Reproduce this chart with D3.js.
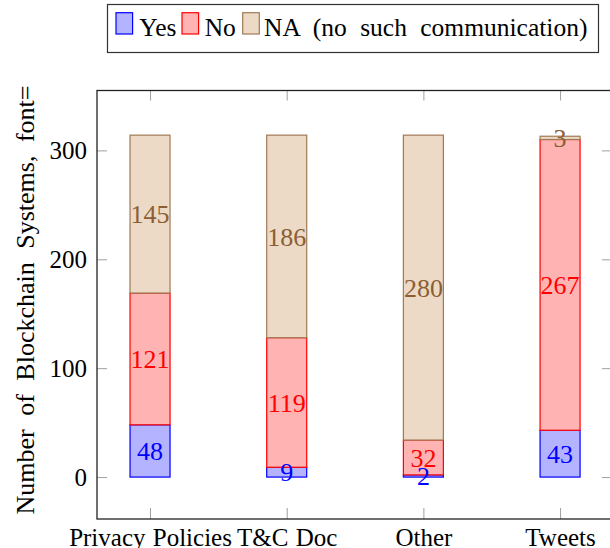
<!DOCTYPE html>
<html><head><meta charset="utf-8">
<script src="https://cdn.jsdelivr.net/npm/d3@7"></script>
<style>body{margin:0;background:#fff}svg{display:block}svg text{font-family:"Liberation Serif","Tinos","Times New Roman","DejaVu Serif",serif !important}</style>
</head><body>
<svg id="c" width="610" height="548"></svg>
<script>
const categories = ["Privacy Policies", "T&C Doc", "Other", "Tweets"];
const yesValues = [48, 9, 2, 43];
const noValues = [121, 119, 32, 267];
const naValues = [145, 186, 280, 3];
const seriesNames = ["Yes", "No", "NA (no such communication)"];
const yTicks = [0, 100, 200, 300];

const svg = d3.select("#c");
const pLeft = 97, pRight = 612, pTop = 90.5, pBottom = 519;
const x = d3.scaleLinear().domain([-0.388, 3.38]).range([pLeft, pRight]);
const y = d3.scaleLinear().domain([-38.5, 355]).range([pBottom, pTop]);
const bw = 40;
const FS = 25;

const styles = [
  {fill: "#b3b3ff", stroke: "#0000ff", text: "#0000ff"},
  {fill: "#ffb3b3", stroke: "#ff0000", text: "#ff0000"},
  {fill: "#ecd9c6", stroke: "#a07a55", text: "#8b5e34"}
];

const rows = categories.map((c, i) => ({i, Yes: yesValues[i], No: noValues[i], NA: naValues[i]}));
const stack = d3.stack().keys(["Yes", "No", "NA"])(rows);

const tickCol = "#a0a0a0";
const g = svg.append("g");
g.append("g").attr("transform", `translate(${pLeft},0)`)
  .call(d3.axisLeft(y).tickValues(yTicks).tickSize(-10).tickPadding(10).tickFormat(d3.format("d")))
  .call(a => { a.select(".domain").remove(); a.selectAll("line").attr("stroke", tickCol);
    a.selectAll("text").attr("font-size", FS).attr("fill", "#000"); });
g.append("g").attr("transform", `translate(${pRight},0)`)
  .call(d3.axisRight(y).tickValues(yTicks).tickSize(-10).tickFormat(""))
  .call(a => { a.select(".domain").remove(); a.selectAll("line").attr("stroke", tickCol); });
g.append("g").attr("transform", `translate(0,${pBottom})`)
  .call(d3.axisBottom(x).tickValues(d3.range(categories.length)).tickSize(-11).tickPadding(9).tickFormat(i => categories[i]))
  .call(a => { a.select(".domain").remove(); a.selectAll("line").attr("stroke", tickCol);
    a.selectAll("text").attr("font-size", FS).attr("fill", "#000").attr("word-spacing", 1); });
g.append("g").attr("transform", `translate(0,${pTop})`)
  .call(d3.axisTop(x).tickValues(d3.range(categories.length)).tickSize(-10).tickFormat(""))
  .call(a => { a.select(".domain").remove(); a.selectAll("line").attr("stroke", tickCol); });

stack.forEach((s, k) => {
  const st = styles[k];
  svg.append("g").selectAll("rect").data(s).join("rect")
    .attr("x", d => x(d.data.i) - bw / 2)
    .attr("width", bw)
    .attr("y", d => y(d[1]))
    .attr("height", d => y(d[0]) - y(d[1]))
    .attr("fill", st.fill).attr("stroke", st.stroke).attr("stroke-width", 1.2);
});
stack.forEach((s, k) => {
  const st = styles[k];
  svg.append("g").selectAll("text").data(s).join("text")
    .attr("x", d => x(d.data.i))
    .attr("y", d => y((d[0] + d[1]) / 2))
    .attr("dy", "0.35em")
    .attr("text-anchor", "middle")
    .attr("font-size", 26)
    .attr("fill", st.text)
    .text(d => d[1] - d[0]);
});

svg.append("rect").attr("x", pLeft).attr("y", pTop).attr("width", pRight - pLeft).attr("height", pBottom - pTop)
  .attr("fill", "none").attr("stroke", "#222").attr("stroke-width", 1.3);

svg.append("text").attr("transform", `translate(34,300) rotate(-90)`)
  .attr("text-anchor", "middle").attr("font-size", 26).attr("word-spacing", 7).attr("fill", "#000")
  .text("Number of Blockchain Systems, font=");

const lg = svg.append("g");
lg.append("rect").attr("x", 107.5).attr("y", 4.5).attr("width", 491).attr("height", 48)
  .attr("fill", "#fff").attr("stroke", "#333").attr("stroke-width", 1.2);
const sw = [116, 182, 242.7];
const tx = [139.3, 204.7, 264];
seriesNames.forEach((n, k) => {
  lg.append("rect").attr("x", sw[k]).attr("y", 12.7).attr("width", 16.6).attr("height", 21.3)
    .attr("fill", styles[k].fill).attr("stroke", styles[k].stroke).attr("stroke-width", 1.2);
  lg.append("text").attr("x", tx[k]).attr("y", 36).attr("font-size", 25.5).attr("word-spacing", 7)
    .attr("fill", "#000").text(n);
});
</script>
</body></html>
